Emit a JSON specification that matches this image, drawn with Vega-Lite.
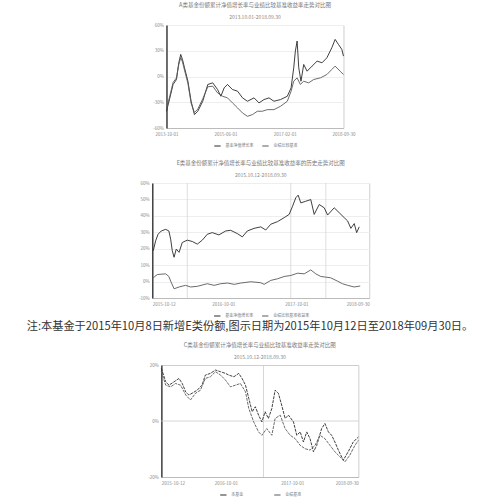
{
  "$schema": "https://vega.github.io/schema/vega-lite/v6.json",
  "padding": {"left": 26, "top": 2, "right": 0, "bottom": 0},
  "spacing": 2,
  "center": true,
  "resolve": {"scale": {"color": "independent"}, "legend": {"color": "independent"}},
  "datasets": {
    "c1": [
      {"date": "2013-10-01", "series": "基金净值增长率", "value": -40.5},
      {"date": "2013-11-05", "series": "基金净值增长率", "value": -24.9},
      {"date": "2013-12-08", "series": "基金净值增长率", "value": -9.3},
      {"date": "2014-01-12", "series": "基金净值增长率", "value": -3.5},
      {"date": "2014-02-05", "series": "基金净值增长率", "value": 16.0},
      {"date": "2014-02-25", "series": "基金净值增长率", "value": 25.7},
      {"date": "2014-03-15", "series": "基金净值增长率", "value": 19.9},
      {"date": "2014-04-05", "series": "基金净值增长率", "value": 10.1},
      {"date": "2014-05-10", "series": "基金净值增长率", "value": -5.5},
      {"date": "2014-06-12", "series": "基金净值增长率", "value": -28.8},
      {"date": "2014-07-16", "series": "基金净值增长率", "value": -44.4},
      {"date": "2014-08-20", "series": "基金净值增长率", "value": -40.5},
      {"date": "2014-10-10", "series": "基金净值增长率", "value": -28.8},
      {"date": "2014-12-01", "series": "基金净值增长率", "value": -9.3},
      {"date": "2015-01-21", "series": "基金净值增长率", "value": -7.4},
      {"date": "2015-03-12", "series": "基金净值增长率", "value": -15.2},
      {"date": "2015-04-15", "series": "基金净值增长率", "value": -23.0},
      {"date": "2015-05-19", "series": "基金净值增长率", "value": -13.2},
      {"date": "2015-06-22", "series": "基金净值增长率", "value": -9.3},
      {"date": "2015-08-13", "series": "基金净值增长率", "value": -15.2},
      {"date": "2015-10-04", "series": "基金净值增长率", "value": -17.1},
      {"date": "2015-11-24", "series": "基金净值增长率", "value": -24.9},
      {"date": "2016-01-14", "series": "基金净值增长率", "value": -28.8},
      {"date": "2016-03-22", "series": "基金净值增长率", "value": -24.9},
      {"date": "2016-05-12", "series": "基金净值增长率", "value": -30.8},
      {"date": "2016-07-02", "series": "基金净值增长率", "value": -26.9},
      {"date": "2016-08-23", "series": "基金净值增长率", "value": -24.9},
      {"date": "2016-10-13", "series": "基金净值增长率", "value": -28.8},
      {"date": "2016-12-20", "series": "基金净值增长率", "value": -26.9},
      {"date": "2017-02-28", "series": "基金净值增长率", "value": -23.0},
      {"date": "2017-04-08", "series": "基金净值增长率", "value": -13.2},
      {"date": "2017-05-05", "series": "基金净值增长率", "value": 10.1},
      {"date": "2017-05-22", "series": "基金净值增长率", "value": 29.6},
      {"date": "2017-06-09", "series": "基金净值增长率", "value": 41.3},
      {"date": "2017-06-26", "series": "基金净值增长率", "value": 10.1},
      {"date": "2017-07-19", "series": "基金净值增长率", "value": -5.5},
      {"date": "2017-08-16", "series": "基金净值增长率", "value": 14.0},
      {"date": "2017-09-20", "series": "基金净值增长率", "value": 6.2},
      {"date": "2017-11-10", "series": "基金净值增长率", "value": 12.1},
      {"date": "2018-01-01", "series": "基金净值增长率", "value": 17.9},
      {"date": "2018-02-21", "series": "基金净值增长率", "value": 16.0},
      {"date": "2018-04-12", "series": "基金净值增长率", "value": 21.8},
      {"date": "2018-06-02", "series": "基金净值增长率", "value": 33.5},
      {"date": "2018-07-06", "series": "基金净值增长率", "value": 43.2},
      {"date": "2018-08-09", "series": "基金净值增长率", "value": 37.4},
      {"date": "2018-09-13", "series": "基金净值增长率", "value": 31.6},
      {"date": "2018-09-30", "series": "基金净值增长率", "value": 23.8},
      {"date": "2013-10-01", "series": "业绩比较基准", "value": -38.0},
      {"date": "2013-11-05", "series": "业绩比较基准", "value": -22.5},
      {"date": "2013-12-08", "series": "业绩比较基准", "value": -7.0},
      {"date": "2014-01-12", "series": "业绩比较基准", "value": -1.5},
      {"date": "2014-02-05", "series": "业绩比较基准", "value": 14.0},
      {"date": "2014-02-25", "series": "业绩比较基准", "value": 22.0},
      {"date": "2014-03-15", "series": "业绩比较基准", "value": 17.0},
      {"date": "2014-04-05", "series": "业绩比较基准", "value": 7.5},
      {"date": "2014-05-10", "series": "业绩比较基准", "value": -8.0},
      {"date": "2014-06-12", "series": "业绩比较基准", "value": -31.0},
      {"date": "2014-07-16", "series": "业绩比较基准", "value": -42.0},
      {"date": "2014-08-20", "series": "业绩比较基准", "value": -38.0},
      {"date": "2014-10-10", "series": "业绩比较基准", "value": -26.0},
      {"date": "2014-12-01", "series": "业绩比较基准", "value": -12.0},
      {"date": "2015-01-21", "series": "业绩比较基准", "value": -11.3},
      {"date": "2015-03-12", "series": "业绩比较基准", "value": -19.1},
      {"date": "2015-05-02", "series": "业绩比较基准", "value": -23.0},
      {"date": "2015-06-22", "series": "业绩比较基准", "value": -24.9},
      {"date": "2015-08-13", "series": "业绩比较基准", "value": -30.8},
      {"date": "2015-10-04", "series": "业绩比较基准", "value": -36.6},
      {"date": "2015-11-24", "series": "业绩比较基准", "value": -42.5},
      {"date": "2016-01-14", "series": "业绩比较基准", "value": -46.4},
      {"date": "2016-03-05", "series": "业绩比较基准", "value": -44.4},
      {"date": "2016-04-25", "series": "业绩比较基准", "value": -40.5},
      {"date": "2016-06-15", "series": "业绩比较基准", "value": -40.5},
      {"date": "2016-08-06", "series": "业绩比较基准", "value": -38.6},
      {"date": "2016-10-13", "series": "业绩比较基准", "value": -38.6},
      {"date": "2016-12-20", "series": "业绩比较基准", "value": -34.7},
      {"date": "2017-02-28", "series": "业绩比较基准", "value": -28.8},
      {"date": "2017-04-08", "series": "业绩比较基准", "value": -17.1},
      {"date": "2017-05-05", "series": "业绩比较基准", "value": -5.5},
      {"date": "2017-06-09", "series": "业绩比较基准", "value": -1.6},
      {"date": "2017-07-12", "series": "业绩比较基准", "value": -9.3},
      {"date": "2017-08-16", "series": "业绩比较基准", "value": -5.5},
      {"date": "2017-10-06", "series": "业绩比较基准", "value": -7.4},
      {"date": "2017-11-27", "series": "业绩比较基准", "value": -3.5},
      {"date": "2018-02-04", "series": "业绩比较基准", "value": -1.6},
      {"date": "2018-04-12", "series": "业绩比较基准", "value": 2.3},
      {"date": "2018-06-02", "series": "业绩比较基准", "value": 8.2},
      {"date": "2018-07-06", "series": "业绩比较基准", "value": 12.1},
      {"date": "2018-08-26", "series": "业绩比较基准", "value": 6.2},
      {"date": "2018-09-30", "series": "业绩比较基准", "value": 2.3}
    ],
    "c2": [
      {"date": "2015-10-17", "series": "基金净值增长率", "value": 18.8},
      {"date": "2015-10-29", "series": "基金净值增长率", "value": 24.8},
      {"date": "2015-11-10", "series": "基金净值增长率", "value": 28.8},
      {"date": "2015-11-26", "series": "基金净值增长率", "value": 30.8},
      {"date": "2015-12-18", "series": "基金净值增长率", "value": 31.8},
      {"date": "2016-01-03", "series": "基金净值增长率", "value": 30.8},
      {"date": "2016-01-12", "series": "基金净值增长率", "value": 25.8},
      {"date": "2016-01-20", "series": "基金净值增长率", "value": 18.8},
      {"date": "2016-01-29", "series": "基金净值增长率", "value": 14.8},
      {"date": "2016-02-09", "series": "基金净值增长率", "value": 19.8},
      {"date": "2016-02-23", "series": "基金净值增长率", "value": 17.8},
      {"date": "2016-03-10", "series": "基金净值增长率", "value": 23.8},
      {"date": "2016-04-04", "series": "基金净值增长率", "value": 25.2},
      {"date": "2016-04-29", "series": "基金净值增长率", "value": 24.4},
      {"date": "2016-05-24", "series": "基金净值增长率", "value": 22.8},
      {"date": "2016-06-18", "series": "基金净值增长率", "value": 25.2},
      {"date": "2016-07-13", "series": "基金净值增长率", "value": 28.8},
      {"date": "2016-08-07", "series": "基金净值增长率", "value": 29.8},
      {"date": "2016-09-09", "series": "基金净值增长率", "value": 28.4},
      {"date": "2016-10-13", "series": "基金净值增长率", "value": 30.8},
      {"date": "2016-11-07", "series": "基金净值增长率", "value": 31.2},
      {"date": "2016-12-10", "series": "基金净值增长率", "value": 29.2},
      {"date": "2017-01-04", "series": "基金净值增长率", "value": 27.2},
      {"date": "2017-01-29", "series": "基金净值增长率", "value": 30.8},
      {"date": "2017-03-04", "series": "基金净值增长率", "value": 32.4},
      {"date": "2017-04-06", "series": "基金净值增长率", "value": 33.3},
      {"date": "2017-05-01", "series": "基金净值增长率", "value": 31.4},
      {"date": "2017-05-26", "series": "基金净值增长率", "value": 34.9},
      {"date": "2017-06-29", "series": "基金净值增长率", "value": 36.5},
      {"date": "2017-08-01", "series": "基金净值增长率", "value": 38.9},
      {"date": "2017-08-26", "series": "基金净值增长率", "value": 40.9},
      {"date": "2017-09-12", "series": "基金净值增长率", "value": 45.9},
      {"date": "2017-09-28", "series": "基金净值增长率", "value": 51.0},
      {"date": "2017-10-10", "series": "基金净值增长率", "value": 52.6},
      {"date": "2017-10-23", "series": "基金净值增长率", "value": 47.9},
      {"date": "2017-11-17", "series": "基金净值增长率", "value": 48.9},
      {"date": "2017-12-12", "series": "基金净值增长率", "value": 49.9},
      {"date": "2017-12-29", "series": "基金净值增长率", "value": 40.9},
      {"date": "2018-01-23", "series": "基金净值增长率", "value": 46.9},
      {"date": "2018-02-17", "series": "基金净值增长率", "value": 44.9},
      {"date": "2018-03-06", "series": "基金净值增长率", "value": 40.5},
      {"date": "2018-04-08", "series": "基金净值增长率", "value": 44.9},
      {"date": "2018-05-03", "series": "基金净值增长率", "value": 41.9},
      {"date": "2018-05-28", "series": "基金净值增长率", "value": 38.9},
      {"date": "2018-06-14", "series": "基金净值增长率", "value": 36.9},
      {"date": "2018-06-30", "series": "基金净值增长率", "value": 32.4},
      {"date": "2018-07-17", "series": "基金净值增长率", "value": 35.3},
      {"date": "2018-07-29", "series": "基金净值增长率", "value": 29.8},
      {"date": "2018-08-11", "series": "基金净值增长率", "value": 33.3},
      {"date": "2015-10-17", "series": "业绩比较基准收益率", "value": 2.1},
      {"date": "2015-10-24", "series": "业绩比较基准收益率", "value": 3.1},
      {"date": "2015-11-07", "series": "业绩比较基准收益率", "value": 4.3},
      {"date": "2015-12-18", "series": "业绩比较基准收益率", "value": 4.7},
      {"date": "2016-01-03", "series": "业绩比较基准收益率", "value": 3.1},
      {"date": "2016-01-14", "series": "业绩比较基准收益率", "value": -0.3},
      {"date": "2016-01-29", "series": "业绩比较基准收益率", "value": -4.4},
      {"date": "2016-02-23", "series": "业绩比较基准收益率", "value": -3.3},
      {"date": "2016-03-26", "series": "业绩比较基准收益率", "value": -2.3},
      {"date": "2016-04-21", "series": "业绩比较基准收益率", "value": -3.3},
      {"date": "2016-05-24", "series": "业绩比较基准收益率", "value": -2.9},
      {"date": "2016-07-13", "series": "业绩比较基准收益率", "value": -1.3},
      {"date": "2016-08-16", "series": "业绩比较基准收益率", "value": -2.3},
      {"date": "2016-09-18", "series": "业绩比较基准收益率", "value": -1.3},
      {"date": "2016-10-22", "series": "业绩比较基准收益率", "value": -0.9},
      {"date": "2016-11-25", "series": "业绩比较基准收益率", "value": -1.7},
      {"date": "2016-12-27", "series": "业绩比较基准收益率", "value": -0.9},
      {"date": "2017-02-16", "series": "业绩比较基准收益率", "value": -0.1},
      {"date": "2017-04-06", "series": "业绩比较基准收益率", "value": -0.7},
      {"date": "2017-04-23", "series": "业绩比较基准收益率", "value": -1.7},
      {"date": "2017-05-26", "series": "业绩比较基准收益率", "value": 0.7},
      {"date": "2017-06-29", "series": "业绩比较基准收益率", "value": 1.7},
      {"date": "2017-08-01", "series": "业绩比较基准收益率", "value": 3.1},
      {"date": "2017-09-03", "series": "业绩比较基准收益率", "value": 3.7},
      {"date": "2017-10-07", "series": "业绩比较基准收益率", "value": 5.1},
      {"date": "2017-11-09", "series": "业绩比较基准收益率", "value": 4.7},
      {"date": "2017-12-12", "series": "业绩比较基准收益率", "value": 7.1},
      {"date": "2018-01-06", "series": "业绩比较基准收益率", "value": 4.7},
      {"date": "2018-01-31", "series": "业绩比较基准收益率", "value": 3.1},
      {"date": "2018-02-25", "series": "业绩比较基准收益率", "value": 2.7},
      {"date": "2018-03-21", "series": "业绩比较基准收益率", "value": 2.3},
      {"date": "2018-04-24", "series": "业绩比较基准收益率", "value": 0.3},
      {"date": "2018-05-19", "series": "业绩比较基准收益率", "value": -1.3},
      {"date": "2018-06-14", "series": "业绩比较基准收益率", "value": -2.3},
      {"date": "2018-07-17", "series": "业绩比较基准收益率", "value": -3.3},
      {"date": "2018-08-16", "series": "业绩比较基准收益率", "value": -2.7}
    ],
    "c3": [
      {"date": "2015-10-12", "series": "本基金", "value": 18.8},
      {"date": "2015-11-05", "series": "本基金", "value": 14.0},
      {"date": "2015-11-23", "series": "本基金", "value": 12.8},
      {"date": "2015-12-21", "series": "本基金", "value": 14.0},
      {"date": "2016-01-17", "series": "本基金", "value": 15.2},
      {"date": "2016-02-04", "series": "本基金", "value": 13.4},
      {"date": "2016-02-23", "series": "本基金", "value": 10.4},
      {"date": "2016-03-11", "series": "本基金", "value": 9.3},
      {"date": "2016-03-29", "series": "本基金", "value": 9.9},
      {"date": "2016-04-26", "series": "本基金", "value": 11.0},
      {"date": "2016-05-23", "series": "本基金", "value": 12.8},
      {"date": "2016-06-10", "series": "本基金", "value": 16.4},
      {"date": "2016-07-08", "series": "本基金", "value": 17.0},
      {"date": "2016-08-05", "series": "本基金", "value": 18.2},
      {"date": "2016-09-02", "series": "本基金", "value": 17.6},
      {"date": "2016-09-29", "series": "本基金", "value": 17.0},
      {"date": "2016-10-17", "series": "本基金", "value": 16.4},
      {"date": "2016-11-14", "series": "本基金", "value": 15.8},
      {"date": "2016-12-11", "series": "本基金", "value": 17.0},
      {"date": "2016-12-29", "series": "本基金", "value": 15.2},
      {"date": "2017-01-17", "series": "本基金", "value": 12.8},
      {"date": "2017-02-04", "series": "本基金", "value": 8.1},
      {"date": "2017-02-23", "series": "本基金", "value": 3.3},
      {"date": "2017-03-12", "series": "本基金", "value": 5.1},
      {"date": "2017-03-30", "series": "本基金", "value": 2.1},
      {"date": "2017-04-17", "series": "本基金", "value": -0.3},
      {"date": "2017-05-05", "series": "本基金", "value": 3.3},
      {"date": "2017-05-23", "series": "本基金", "value": 0.9},
      {"date": "2017-06-11", "series": "本基金", "value": 4.5},
      {"date": "2017-06-29", "series": "本基金", "value": 11.0},
      {"date": "2017-07-17", "series": "本基金", "value": 9.9},
      {"date": "2017-08-04", "series": "本基金", "value": 5.7},
      {"date": "2017-08-23", "series": "本基金", "value": 0.9},
      {"date": "2017-09-10", "series": "本基金", "value": 2.1},
      {"date": "2017-10-08", "series": "本基金", "value": -0.3},
      {"date": "2017-10-26", "series": "本基金", "value": -5.1},
      {"date": "2017-11-14", "series": "本基金", "value": -3.9},
      {"date": "2017-12-02", "series": "本基金", "value": -7.5},
      {"date": "2017-12-20", "series": "本基金", "value": -3.9},
      {"date": "2018-01-07", "series": "本基金", "value": -6.3},
      {"date": "2018-01-26", "series": "本基金", "value": -11.0},
      {"date": "2018-02-13", "series": "本基金", "value": -8.7},
      {"date": "2018-03-12", "series": "本基金", "value": -2.7},
      {"date": "2018-03-30", "series": "本基金", "value": -0.9},
      {"date": "2018-04-18", "series": "本基金", "value": -3.9},
      {"date": "2018-05-06", "series": "本基金", "value": -5.1},
      {"date": "2018-05-24", "series": "本基金", "value": -7.5},
      {"date": "2018-06-12", "series": "本基金", "value": -10.4},
      {"date": "2018-07-09", "series": "本基金", "value": -14.0},
      {"date": "2018-08-05", "series": "本基金", "value": -11.0},
      {"date": "2018-09-02", "series": "本基金", "value": -7.5},
      {"date": "2018-09-30", "series": "本基金", "value": -5.7},
      {"date": "2015-10-12", "series": "业绩基准", "value": 17.6},
      {"date": "2015-11-05", "series": "业绩基准", "value": 12.8},
      {"date": "2015-12-02", "series": "业绩基准", "value": 12.2},
      {"date": "2015-12-29", "series": "业绩基准", "value": 13.4},
      {"date": "2016-01-26", "series": "业绩基准", "value": 12.8},
      {"date": "2016-02-23", "series": "业绩基准", "value": 9.3},
      {"date": "2016-03-20", "series": "业绩基准", "value": 7.5},
      {"date": "2016-04-17", "series": "业绩基准", "value": 9.9},
      {"date": "2016-05-14", "series": "业绩基准", "value": 11.0},
      {"date": "2016-06-10", "series": "业绩基准", "value": 15.2},
      {"date": "2016-07-08", "series": "业绩基准", "value": 15.8},
      {"date": "2016-08-05", "series": "业绩基准", "value": 17.6},
      {"date": "2016-09-02", "series": "业绩基准", "value": 16.4},
      {"date": "2016-09-29", "series": "业绩基准", "value": 14.6},
      {"date": "2016-10-26", "series": "业绩基准", "value": 12.2},
      {"date": "2016-11-23", "series": "业绩基准", "value": 12.8},
      {"date": "2016-12-20", "series": "业绩基准", "value": 13.4},
      {"date": "2017-01-17", "series": "业绩基准", "value": 10.4},
      {"date": "2017-02-04", "series": "业绩基准", "value": 4.5},
      {"date": "2017-03-03", "series": "业绩基准", "value": -0.3},
      {"date": "2017-03-30", "series": "业绩基准", "value": -3.9},
      {"date": "2017-04-17", "series": "业绩基准", "value": -5.1},
      {"date": "2017-05-14", "series": "业绩基准", "value": -2.7},
      {"date": "2017-06-11", "series": "业绩基准", "value": -5.1},
      {"date": "2017-06-29", "series": "业绩基准", "value": 0.9},
      {"date": "2017-07-27", "series": "业绩基准", "value": 2.1},
      {"date": "2017-08-23", "series": "业绩基准", "value": -2.7},
      {"date": "2017-09-20", "series": "业绩基准", "value": -5.1},
      {"date": "2017-10-17", "series": "业绩基准", "value": -6.3},
      {"date": "2017-11-14", "series": "业绩基准", "value": -8.7},
      {"date": "2017-12-11", "series": "业绩基准", "value": -9.9},
      {"date": "2018-01-07", "series": "业绩基准", "value": -10.4},
      {"date": "2018-02-04", "series": "业绩基准", "value": -8.7},
      {"date": "2018-03-03", "series": "业绩基准", "value": -5.1},
      {"date": "2018-03-30", "series": "业绩基准", "value": -6.3},
      {"date": "2018-04-27", "series": "业绩基准", "value": -8.7},
      {"date": "2018-05-24", "series": "业绩基准", "value": -11.0},
      {"date": "2018-06-21", "series": "业绩基准", "value": -12.8},
      {"date": "2018-07-18", "series": "业绩基准", "value": -14.6},
      {"date": "2018-08-14", "series": "业绩基准", "value": -12.2},
      {"date": "2018-09-11", "series": "业绩基准", "value": -8.7},
      {"date": "2018-09-30", "series": "业绩基准", "value": -6.9}
    ],
    "note": [
      {"text": "注:本基金于2015年10月8日新增E类份额,图示日期为2015年10月12日至2018年09月30日。"}
    ]
  },
  "vconcat": [
    {
      "width": 177,
      "height": 103,
      "title": {"text": "A类基金份额累计净值增长率与业绩比较基准收益率走势对比图", "subtitle": "2013.10.01-2018.09.30"},
      "layer": [
        {
          "mark": {"type": "rule", "color": "#cccccc", "strokeWidth": 0.8},
          "encoding": {"x": {"datum": "2016-05-01", "type": "temporal"}}
        },
        {
          "data": {"name": "c1"},
          "mark": {"type": "line", "strokeWidth": 0.9},
          "encoding": {
            "x": {"field": "date", "type": "temporal", "scale": {"domain": ["2013-10-01", "2018-09-30"]},
                  "axis": {"title": null, "grid": false, "labelFlush": false, "format": "%Y-%m-%d", "values": ["2013-10-01", "2014-08-01", "2015-06-01", "2016-04-01", "2017-02-01", "2017-12-01", "2018-09-30"]}},
            "y": {"field": "value", "type": "quantitative", "scale": {"domain": [-60, 60]},
                  "axis": {"title": null, "values": [-60, -30, 0, 30, 60], "labelExpr": "datum.value + '%'", "domainColor": "#444", "domainWidth": 1.5}},
            "color": {"field": "series", "type": "nominal", "scale": {"range": ["#2a2a2a", "#5a5a5a"]}, "sort": ["基金净值增长率", "业绩比较基准"], "legend": {"title": null, "orient": "bottom", "direction": "horizontal", "offset": -3, "padding": 9}}
          }
        }
      ]
    },
    {
      "width": 217,
      "height": 115,
      "title": {"text": "E类基金份额累计净值增长率与业绩比较基准收益率的历史走势对比图", "subtitle": "2015.10.12-2018.09.30"},
      "layer": [
        {
          "data": {"values": [{"d": "2016-04-04"}, {"d": "2017-09-03"}, {"d": "2018-02-25"}]},
          "mark": {"type": "rule", "color": "#d5d5d5", "strokeWidth": 0.8},
          "encoding": {"x": {"field": "d", "type": "temporal"}}
        },
        {
          "data": {"name": "c2"},
          "mark": {"type": "line", "strokeWidth": 0.9},
          "encoding": {
            "x": {"field": "date", "type": "temporal", "scale": {"domain": ["2015-10-12", "2018-09-30"]},
                  "axis": {"title": null, "grid": false, "format": "%Y-%m-%d", "values": ["2015-10-12", "2016-04-01", "2016-10-01", "2017-04-01", "2017-10-01", "2018-04-01", "2018-09-30"]}},
            "y": {"field": "value", "type": "quantitative", "scale": {"domain": [-10, 60]},
                  "axis": {"title": null, "values": [-10, 0, 10, 20, 30, 40, 50, 60], "labelExpr": "datum.value + '%'", "domainColor": "#444", "domainWidth": 1.5}},
            "color": {"field": "series", "type": "nominal", "scale": {"range": ["#2a2a2a", "#5a5a5a"]}, "sort": ["基金净值增长率", "业绩比较基准收益率"], "legend": {"title": null, "orient": "bottom", "direction": "horizontal"}}
          }
        }
      ]
    },
    {
      "width": 466,
      "height": 19,
      "view": {"stroke": null},
      "data": {"name": "note"},
      "mark": {"type": "text", "fontSize": 11.2, "color": "#333333", "baseline": "top", "dy": -9.5, "dx": -11},
      "encoding": {"text": {"field": "text", "type": "nominal"}}
    },
    {
      "width": 197,
      "height": 112,
      "title": {"text": "C类基金份额累计净值增长率与业绩比较基准收益率走势对比图", "subtitle": "2015.10.12-2018.09.30"},
      "layer": [
        {
          "data": {"values": [{"d": "2017-04-26"}]},
          "mark": {"type": "rule", "color": "#cccccc", "strokeWidth": 0.8},
          "encoding": {"x": {"field": "d", "type": "temporal"}}
        },
        {
          "data": {"values": [{"v": 0}]},
          "mark": {"type": "rule", "color": "#cccccc", "strokeWidth": 0.8},
          "encoding": {"y": {"field": "v", "type": "quantitative"}}
        },
        {
          "data": {"name": "c3"},
          "mark": {"type": "line", "strokeWidth": 0.9, "strokeDash": [3, 1]},
          "encoding": {
            "x": {"field": "date", "type": "temporal", "scale": {"domain": ["2015-10-12", "2018-09-30"]},
                  "axis": {"title": null, "grid": false, "format": "%Y-%m-%d", "values": ["2015-10-12", "2016-04-01", "2016-10-01", "2017-04-01", "2017-10-01", "2018-04-01", "2018-09-30"]}},
            "y": {"field": "value", "type": "quantitative", "scale": {"domain": [-20, 20]},
                  "axis": {"title": null, "grid": false, "values": [-20, -10, 0, 10, 20], "labelExpr": "datum.value + '%'", "domainColor": "#444", "domainWidth": 1.5}},
            "color": {"field": "series", "type": "nominal", "scale": {"range": ["#2a2a2a", "#5a5a5a"]}, "sort": ["本基金", "业绩基准"], "legend": {"title": null, "orient": "bottom", "direction": "horizontal", "columnPadding": 28}}
          }
        }
      ]
    }
  ],
  "config": {
    "font": "Noto Sans CJK SC",
    "view": {"stroke": "#cfcfcf"},
    "axis": {"labelFontSize": 4.5, "labelColor": "#888888", "ticks": false, "labelPadding": 3, "gridColor": "#eeeeee", "domainColor": "#bbbbbb"},
    "axisY": {"grid": true},
    "title": {"fontSize": 5.5, "color": "#777777", "subtitleFontSize": 5, "subtitleColor": "#888888", "offset": 2, "subtitlePadding": 6.5, "fontWeight": "normal"},
    "legend": {"labelFontSize": 4, "labelColor": "#777777", "symbolType": "stroke", "symbolSize": 40, "symbolStrokeWidth": 1, "padding": 0, "offset": 6, "columnPadding": 6, "layout": {"bottom": {"anchor": "middle"}}}
  }
}
